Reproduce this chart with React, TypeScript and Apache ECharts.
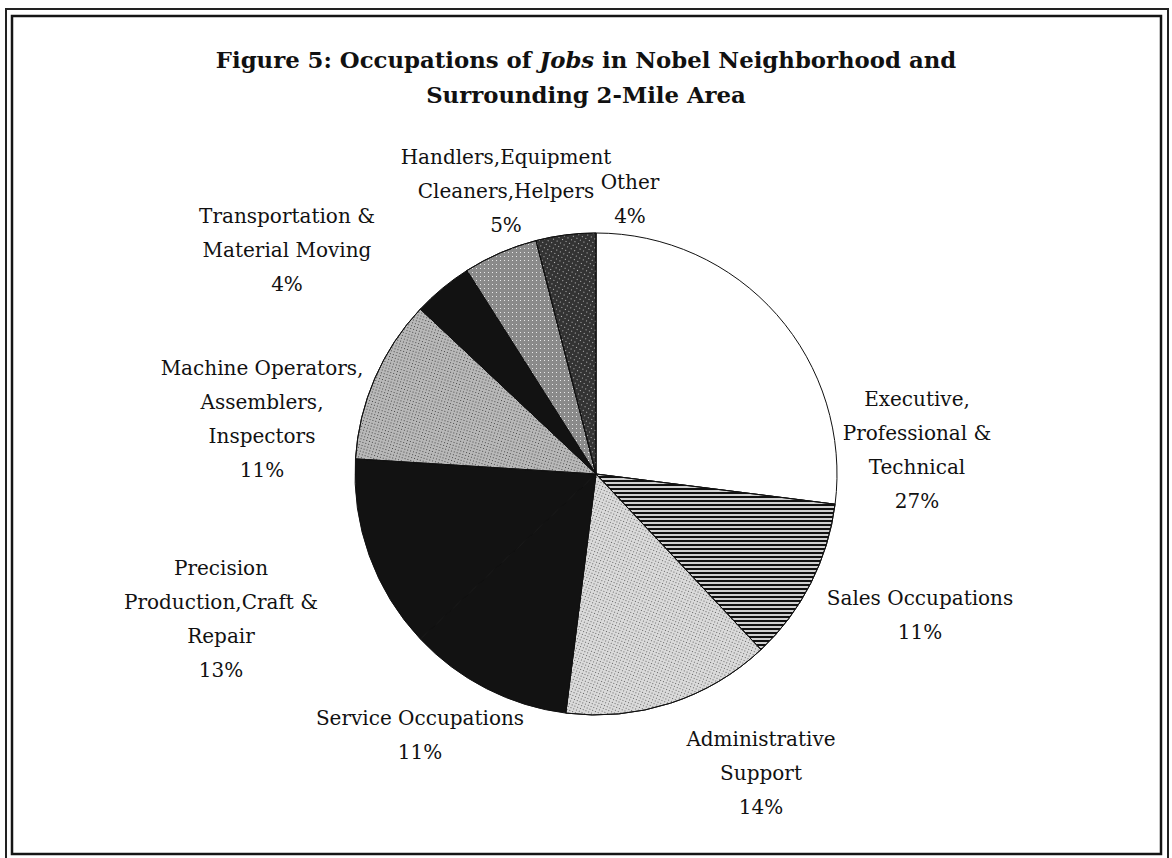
import React, { useEffect, useRef } from "react";
import * as echarts from "echarts";

const categories = [
  "Executive,\nProfessional &\nTechnical",
  "Sales Occupations",
  "Administrative\nSupport",
  "Service Occupations",
  "Precision\nProduction,Craft &\nRepair",
  "Machine Operators,\nAssemblers,\nInspectors",
  "Transportation &\nMaterial Moving",
  "Handlers,Equipment\nCleaners,Helpers",
  "Other",
];
const shares = [27, 11, 14, 11, 13, 11, 4, 5, 4];

const titleLine1a = "Figure 5: Occupations of ";
const titleItalic = "Jobs";
const titleLine1b = " in Nobel Neighborhood and";
const titleLine2 = "Surrounding 2-Mile Area";

// label anchor points (text block centres), by slice index
const labelAnchors: [number, number][] = [
  [917, 450],
  [920, 615],
  [761, 773],
  [420, 735],
  [221, 619],
  [262, 419],
  [287, 250],
  [506, 191],
  [630, 199],
];

const sliceStyles: any[] = [
  { color: "#ffffff" },
  {
    color: "#d0d0d0",
    decal: { symbol: "rect", symbolSize: 1, color: "#111", dashArrayX: [1, 0], dashArrayY: [2, 2], rotation: 0 },
  },
  {
    color: "#dadada",
    decal: { symbol: "rect", symbolSize: 1, color: "#666", dashArrayX: [1, 2], dashArrayY: [1, 2], rotation: 0.4 },
  },
  { color: "#121212" },
  { color: "#121212" },
  {
    color: "#b8b8b8",
    decal: { symbol: "rect", symbolSize: 1, color: "#4a4a4a", dashArrayX: [1, 2], dashArrayY: [1, 2], rotation: 0.3 },
  },
  { color: "#121212" },
  {
    color: "#8a8a8a",
    decal: { symbol: "rect", symbolSize: 1, color: "#e8e8e8", dashArrayX: [1, 3], dashArrayY: [1, 3], rotation: 0 },
  },
  {
    color: "#333333",
    decal: { symbol: "rect", symbolSize: 1, color: "#bbbbbb", dashArrayX: [1, 3], dashArrayY: [1, 3], rotation: 0.5 },
  },
];

export default function App() {
  const ref = useRef<HTMLDivElement>(null);
  useEffect(() => {
    if (!ref.current) return;
    const chart = echarts.init(ref.current, null, { renderer: "svg" });
    const serif = "'DejaVu Serif', 'Liberation Serif', serif";
    chart.setOption({
      animation: false,
      backgroundColor: "#ffffff",
      title: {
        left: "center",
        top: 37,
        text: `{b|${titleLine1a}}{bi|${titleItalic}}{b|${titleLine1b}}\n{b|${titleLine2}}`,
        textStyle: {
          rich: {
            b: { fontFamily: serif, fontWeight: "bold", fontSize: 22.8, lineHeight: 35, color: "#111" },
            bi: { fontFamily: serif, fontWeight: "bold", fontStyle: "italic", fontSize: 22.8, lineHeight: 35, color: "#111" },
          },
        },
      },
      graphic: [
        {
          type: "rect",
          shape: { x: 12, y: 16, width: 1149, height: 838 },
          style: { fill: "none", stroke: "#151515", lineWidth: 2.5 },
          silent: true,
        },
        {
          type: "polyline",
          shape: { points: [[6, 860], [6, 9], [1168, 9], [1168, 860]] },
          style: { fill: "none", stroke: "#222", lineWidth: 2 },
          silent: true,
        },
      ],
      series: [
        {
          type: "pie",
          center: [596, 474],
          radius: 241,
          startAngle: 90,
          clockwise: true,
          avoidLabelOverlap: false,
          itemStyle: { borderColor: "#111", borderWidth: 1 },
          label: {
            show: true,
            position: "outside",
            formatter: "{b}\n{c}%",
            fontFamily: serif,
            fontSize: 20,
            lineHeight: 34,
            color: "#111",
            align: "center",
          },
          labelLine: { show: false },
          labelLayout: (params: any) => {
            const p = labelAnchors[params.dataIndex];
            return { x: p[0], y: p[1], align: "center", verticalAlign: "middle" };
          },
          emphasis: { disabled: true },
          data: categories.map((name, i) => ({
            name,
            value: shares[i],
            itemStyle: sliceStyles[i],
          })),
        },
      ],
    });
    return () => chart.dispose();
  }, []);
  return (
    <div
      ref={ref}
      style={{ position: "absolute", left: 0, top: 0, width: 1172, height: 858, background: "#fff" }}
    />
  );
}
